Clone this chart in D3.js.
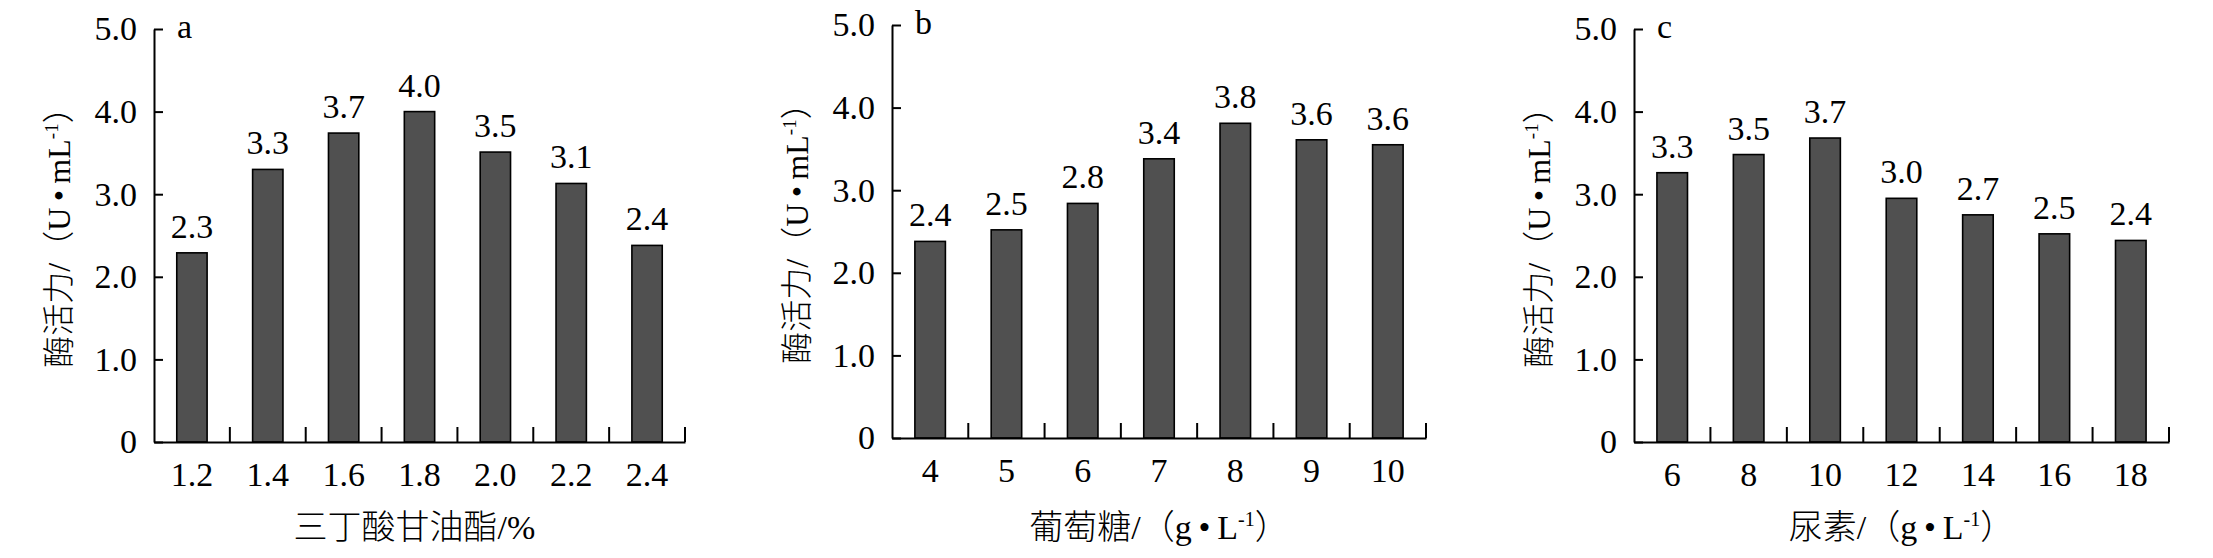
<!DOCTYPE html>
<html>
<head>
<meta charset="utf-8">
<script src="https://cdn.jsdelivr.net/npm/d3@7"></script>
<style>
  body { margin: 0; background: #fff; }
</style>
</head>
<body>
<svg id="chart" width="2213" height="558"></svg>
<script>
// panel a: 三丁酸甘油酯
const catsA = ['1.2', '1.4', '1.6', '1.8', '2.0', '2.2', '2.4'];
const valsA = [2.29, 3.30, 3.74, 4.00, 3.51, 3.13, 2.38];
const labelsA = ['2.3', '3.3', '3.7', '4.0', '3.5', '3.1', '2.4'];

// panel b: 葡萄糖
const catsB = ['4', '5', '6', '7', '8', '9', '10'];
const valsB = [2.38, 2.52, 2.84, 3.38, 3.81, 3.61, 3.55];
const labelsB = ['2.4', '2.5', '2.8', '3.4', '3.8', '3.6', '3.6'];

// panel c: 尿素
const catsC = ['6', '8', '10', '12', '14', '16', '18'];
const valsC = [3.26, 3.48, 3.68, 2.95, 2.75, 2.52, 2.44];
const labelsC = ['3.3', '3.5', '3.7', '3.0', '2.7', '2.5', '2.4'];

const yTicks = [0, 1, 2, 3, 4, 5];
const letters = ['a', 'b', 'c'];
const xTitleMain = ['三丁酸甘油酯/%', '葡萄糖/（g\u2009•\u2009L', '尿素/（g\u2009•\u2009L'];
const xTitleSup = ['', '-1', '-1'];
const xTitleEnd = ['', '）', '）'];

const serif = '"Liberation Serif", "Times New Roman", "Noto Sans CJK SC", serif';
const numSize = '34px';

const layout = [
  { left: 154, width: 531, top: 29, bottom: 442 },
  { left: 892, width: 534, top: 25, bottom: 438 },
  { left: 1634, width: 535, top: 29, bottom: 442 }
];

const svg = d3.select('#chart');
svg.append('rect').attr('width', 2213).attr('height', 558).attr('fill', '#fff');

function drawPanel(i, cats, vals, labels) {
  const p = layout[i];
  const g = svg.append('g').attr('transform', `translate(${p.left},0)`);

  const x = d3.scaleBand().domain(cats).range([0, p.width])
    .paddingInner(0.6).paddingOuter(0.3);
  const y = d3.scaleLinear().domain([0, 5]).range([p.bottom, p.top]);

  // bars
  g.selectAll('rect.bar')
    .data(vals)
    .join('rect')
    .attr('class', 'bar')
    .attr('x', (d, j) => x(cats[j]))
    .attr('y', d => y(d))
    .attr('width', x.bandwidth())
    .attr('height', d => y(0) - y(d))
    .attr('fill', '#505050')
    .attr('stroke', '#000')
    .attr('stroke-width', 1.6);

  // value labels
  g.selectAll('text.val')
    .data(vals)
    .join('text')
    .attr('class', 'val')
    .attr('x', (d, j) => x(cats[j]) + x.bandwidth() / 2)
    .attr('y', d => y(d) - 15)
    .attr('text-anchor', 'middle')
    .style('font-family', serif)
    .style('font-size', numSize)
    .text((d, j) => labels[j]);

  // y axis, ticks inward
  const yAxis = g.append('g')
    .call(d3.axisLeft(y).tickValues(yTicks)
      .tickSizeInner(-9).tickSizeOuter(0).tickPadding(17)
      .tickFormat(d => d === 0 ? '0' : d.toFixed(1)));
  yAxis.selectAll('path, line').attr('stroke', '#000').attr('stroke-width', 2);
  yAxis.selectAll('text').style('font-family', serif).style('font-size', numSize).attr('fill', '#000');

  // x axis
  const xAxis = g.append('g')
    .attr('transform', `translate(0,${p.bottom})`)
    .call(d3.axisBottom(x).tickSize(0).tickPadding(20));
  xAxis.selectAll('path').attr('stroke', '#000').attr('stroke-width', 2);
  xAxis.selectAll('text').style('font-family', serif).style('font-size', numSize).attr('fill', '#000');

  // separator ticks between categories, pointing up
  g.selectAll('line.sep')
    .data(d3.range(1, cats.length + 1))
    .join('line')
    .attr('class', 'sep')
    .attr('x1', k => k * x.step()).attr('x2', k => k * x.step())
    .attr('y1', p.bottom).attr('y2', p.bottom - 15)
    .attr('stroke', '#000').attr('stroke-width', 2);

  // panel letter
  g.append('text')
    .attr('x', 23).attr('y', p.top + 9)
    .style('font-family', serif).style('font-size', numSize)
    .text(letters[i]);

  // y title
  const yt = g.append('text')
    .attr('transform', `translate(-84,${(p.top + p.bottom) / 2 - 6}) rotate(-90)`)
    .attr('text-anchor', 'middle')
    .style('font-family', serif).style('font-size', '32px').style('font-weight', 300);
  yt.append('tspan').text('酶活力/（U\u2009•\u2009mL');
  yt.append('tspan').style('font-size', '19px').attr('dy', -12).text('-1');
  yt.append('tspan').attr('dy', 12).text('）');

  // x title
  const xt = g.append('text')
    .attr('x', p.width / 2 - (i === 0 ? 5 : 0)).attr('y', 539)
    .attr('text-anchor', 'middle')
    .style('font-family', serif).style('font-size', '34px').style('font-weight', 300);
  xt.append('tspan').text(xTitleMain[i]);
  if (xTitleSup[i]) {
    xt.append('tspan').style('font-size', '20px').attr('dy', -13).text(xTitleSup[i]);
    xt.append('tspan').attr('dy', 13).text(xTitleEnd[i]);
  }
}

drawPanel(0, catsA, valsA, labelsA);
drawPanel(1, catsB, valsB, labelsB);
drawPanel(2, catsC, valsC, labelsC);
</script>
</body>
</html>
